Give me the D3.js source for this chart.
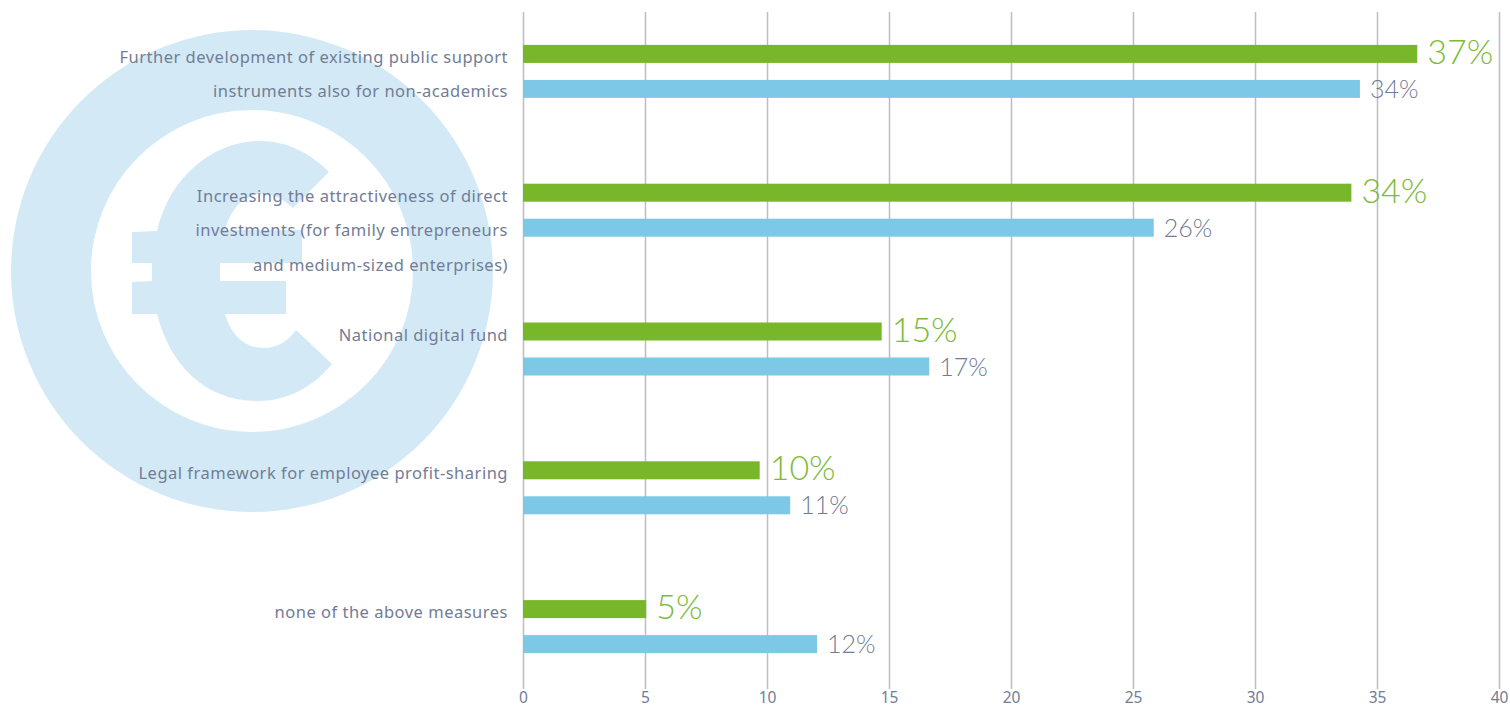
<!DOCTYPE html>

<meta charset="utf-8">
<style>

body {
  margin: 0;
  background: #fff;
}

text {
  font-family: "Noto Sans", sans-serif;
}

.axis path {
  display: none;
}

.axis line {
  stroke: #bcbdc8;
  stroke-width: 1.5;
}

.axis text {
  fill: #727c96;
  font-size: 15.5px;
}

.label {
  fill: #727c96;
  font-size: 16.5px;
  letter-spacing: 0.5px;
}

.value {
  font-family: "Lato", sans-serif;
  font-weight: 300;
}

</style>
<svg width="1510" height="708"></svg>
<script src="https://d3js.org/d3.v7.min.js"></script>
<script>

var categories = [
  ["Further development of existing public support", "instruments also for non-academics"],
  ["Increasing the attractiveness of direct", "investments (for family entrepreneurs", "and medium-sized enterprises)"],
  ["National digital fund"],
  ["Legal framework for employee profit-sharing"],
  ["none of the above measures"]
];
var greenValues = [36.65, 33.95, 14.7, 9.7, 5.05];
var blueValues = [34.3, 25.85, 16.65, 10.95, 12.05];
var xTicks = [0, 5, 10, 15, 20, 25, 30, 35, 40];

var svg = d3.select("svg"),
    margin = {top: 2, right: 11, bottom: 12, left: 523},
    width = +svg.attr("width") - margin.left - margin.right,
    height = +svg.attr("height") - margin.top - margin.bottom;

// euro logo behind the chart
var logo = svg.append("g").attr("fill", "#d3eaf6");

logo.append("path")
    .attr("transform", "translate(252,271)")
    .attr("d", d3.arc()({innerRadius: 161, outerRadius: 241, startAngle: 0, endAngle: 2 * Math.PI}));

logo.append("path")
    .attr("d", "M329,172 L293,208 C283,199 272,194 262,194 C245,194 231,208 225,230 L302,230 L302,263 " +
      "L220,263 L220,281 L286,281 L286,314 L225,314 C231,335 245,348 263,348 C278,348 288,341 296,330 " +
      "L332,364 C312,388 287,401 257,401 C205,401 170,365 157,314 L132,314 L132,282 L152,281 L152,263 " +
      "L132,263 L132,232 L157,231 C170,175 215,141 260,141 C287,141 310,153 329,172 Z");

var x = d3.scaleLinear().domain([0, 40]).range([0, width]),
    y = d3.scaleBand().domain(d3.range(categories.length)).range([0, height]);

var g = svg.append("g")
    .attr("transform", "translate(" + margin.left + "," + margin.top + ")");

g.append("g")
    .attr("class", "axis")
    .attr("transform", "translate(0," + (height - 7) + ")")
    .call(d3.axisBottom(x).tickValues(xTicks).tickSize(-(height - 17)).tickSizeOuter(0).tickPadding(3));

var barHeight = 18,
    greenY = function(i) { return y(i) + y.bandwidth() / 2 - 26.5; },
    blueY = function(i) { return y(i) + y.bandwidth() / 2 + 8.5; };

g.selectAll(".bar-green")
    .data(greenValues)
  .enter().append("rect")
    .attr("class", "bar-green")
    .attr("fill", "#78b62a")
    .attr("x", 0)
    .attr("y", function(d, i) { return greenY(i); })
    .attr("width", function(d) { return x(d); })
    .attr("height", barHeight);

g.selectAll(".bar-blue")
    .data(blueValues)
  .enter().append("rect")
    .attr("class", "bar-blue")
    .attr("fill", "#7dc8e6")
    .attr("x", 0)
    .attr("y", function(d, i) { return blueY(i); })
    .attr("width", function(d) { return x(d); })
    .attr("height", barHeight);

g.selectAll(".value-green")
    .data(greenValues)
  .enter().append("text")
    .attr("class", "value value-green")
    .attr("fill", "#7cbb3a")
    .style("font-size", "34px")
    .attr("x", function(d) { return x(d) + 10; })
    .attr("y", function(d, i) { return greenY(i) + 19; })
    .text(function(d) { return Math.round(d) + "%"; });

g.selectAll(".value-blue")
    .data(blueValues)
  .enter().append("text")
    .attr("class", "value value-blue")
    .attr("fill", "#717b95")
    .style("font-size", "25px")
    .attr("x", function(d) { return x(d) + 10; })
    .attr("y", function(d, i) { return blueY(i) + 18; })
    .text(function(d) { return Math.round(d) + "%"; });

var labels = g.selectAll(".label")
    .data(categories)
  .enter().append("text")
    .attr("class", "label")
    .attr("text-anchor", "end")
    .attr("y", function(d, i) { return greenY(i) + 18; });

labels.selectAll("tspan")
    .data(function(d) { return d; })
  .enter().append("tspan")
    .attr("x", -15)
    .attr("dy", function(d, i) { return i ? 34.5 : 0; })
    .text(function(d) { return d; });

</script>
